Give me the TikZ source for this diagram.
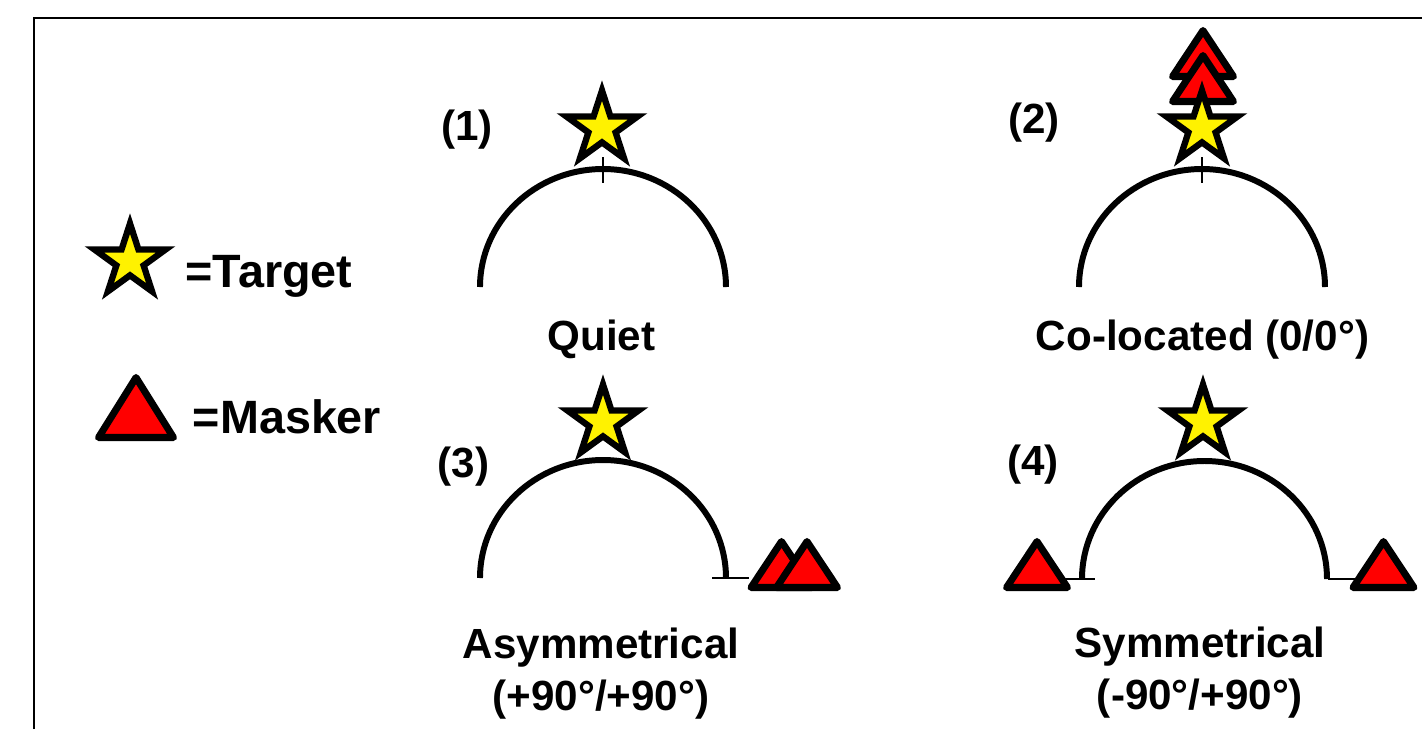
\documentclass[tikz,border=0pt]{standalone}
\usepackage{fontspec}
\setmainfont{Liberation Sans}
\usetikzlibrary{shapes.geometric}

\tikzset{
  target/.style={star, star points=5, star point ratio=2.618, minimum size=0.75cm,
    inner sep=0pt, fill=yellow, draw=black, line width=1.8pt, miter limit=10},
  masker/.style={fill=red, draw=black, line width=2pt, line join=round},
  headarc/.style={line width=1.7pt},
  tick/.style={line width=0.6pt},
  lbl/.style={font=\bfseries\fontsize{12}{14.8}\selectfont, inner sep=0pt, align=center},
  key/.style={font=\bfseries\fontsize{13.3}{16}\selectfont, inner sep=0pt, anchor=base}
}

\begin{document}
\begin{tikzpicture}
    \useasboundingbox (0,0) rectangle (14.22,7.29);
    \draw [line width=0.8pt] (0.34,0)--(0.34,7.11)--(14.3,7.11);

    % legend
    \node [target] (tkey) at (1.30,4.68) {};
    \node [key] (tkeytext) at (2.69,4.42) {=Target};
    \filldraw [masker] (1.36,3.515)--++(-0.375,-0.6)--++(0.75,0)--cycle;
    \node [key] (mkeytext) at (2.87,2.96) {=Masker};

    % (1) quiet
    \draw [headarc] (4.80,4.42) arc [start angle=180, end angle=0, x radius=1.23, y radius=1.18];
    \draw [tick] (6.03,5.72)--(6.03,5.46);
    \node [target] (t1) at (6.02,6.01) {};
    \node [lbl, anchor=base] (n1) at (4.67,5.89) {(1)};
    \node [lbl, anchor=base] (c1) at (6.015,3.79) {Quiet};

    % (2) co-located
    \draw [headarc] (10.79,4.42) arc [start angle=180, end angle=0, x radius=1.23, y radius=1.18];
    \draw [tick] (12.02,5.72)--(12.02,5.46);
    \filldraw [masker] (12.03,6.985)--++(-0.305,-0.46)--++(0.61,0)--cycle;
    \filldraw [masker] (12.03,6.735)--++(-0.305,-0.46)--++(0.61,0)--cycle;
    \node [target] (t2) at (12.02,6.01) {};
    \node [lbl, anchor=base] (n2) at (10.34,5.96) {(2)};
    \node [lbl, anchor=base] (c2) at (12.025,3.79) {Co-located (0/0°)};

    % (3) asymmetrical
    \draw [headarc] (4.80,1.51) arc [start angle=180, end angle=0, x radius=1.23, y radius=1.18];
    \draw [tick] (7.12,1.51)--(7.49,1.51);
    \filldraw [masker] (7.815,1.875)--++(-0.305,-0.46)--++(0.61,0)--cycle;
    \filldraw [masker] (8.07,1.875)--++(-0.305,-0.46)--++(0.61,0)--cycle;
    \node [target] (t3) at (6.03,3.07) {};
    \node [lbl, anchor=base] (n3) at (4.635,2.52) {(3)};
    \node [lbl] (c3) at (6.01,0.557) {Asymmetrical\\(+90°/+90°)};

    % (4) symmetrical
    \draw [headarc] (10.82,1.50) arc [start angle=180, end angle=0, x radius=1.225, y radius=1.18];
    \draw [tick] (10.65,1.50)--(10.95,1.50);
    \draw [tick] (13.28,1.50)--(13.57,1.50);
    \filldraw [masker] (10.37,1.875)--++(-0.305,-0.46)--++(0.61,0)--cycle;
    \filldraw [masker] (13.835,1.875)--++(-0.305,-0.46)--++(0.61,0)--cycle;
    \node [target] (t4) at (12.03,3.07) {};
    \node [lbl, anchor=base] (n4) at (10.33,2.54) {(4)};
    \node [lbl] (c4) at (12.00,0.562) {Symmetrical\\(-90°/+90°)};

\end{tikzpicture}
\end{document}
